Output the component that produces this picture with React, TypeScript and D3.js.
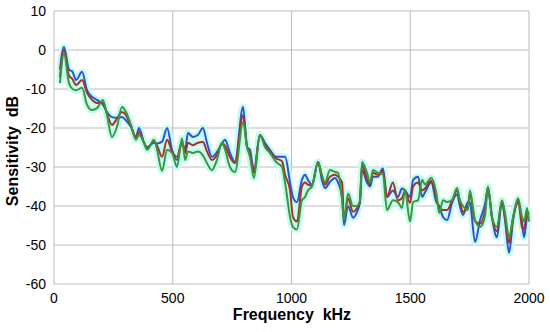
import React, { useEffect, useRef } from 'react';
import * as d3 from 'd3';

// frequency points (kHz)
const freqs = [25, 42, 63, 78, 93, 118, 139, 160, 181, 206, 223, 244, 265, 286, 303, 324, 345, 358, 379, 392,
  421, 434, 455, 476, 497, 518, 539, 552, 564, 585, 606, 627, 644, 665, 686, 707, 720, 741, 762, 796,
  813, 825, 842, 867, 888, 909, 935, 960, 973, 994, 1006, 1023, 1044, 1057, 1069, 1086, 1112, 1128, 1141, 1162,
  1183, 1196, 1213, 1221, 1238, 1259, 1276, 1288, 1297, 1318, 1331, 1343, 1364, 1385, 1402, 1427, 1448, 1465, 1478, 1499,
  1512, 1533, 1550, 1562, 1588, 1610, 1622, 1638, 1655, 1676, 1697, 1709, 1722, 1743, 1751, 1773, 1794, 1815, 1827, 1844,
  1865, 1886, 1899, 1916, 1933, 1954, 1971, 1979, 1992, 2000];

const blueSeries = [-5, 0.8, -5, -5.6, -7.7, -5.6, -10.3, -12, -12.8, -14, -15.9, -17.2, -17.4, -17.2, -18, -19.7, -22.3, -20, -23.8, -24.9,
  -23.8, -24, -23.5, -20, -25.6, -28.2, -23.8, -25.6, -21.3, -22.3, -21.8, -20, -23.8, -27.4, -26.2, -24, -23, -26.4, -28.7, -14.6,
  -24.9, -25.6, -30.8, -21.8, -23.8, -25.6, -27.4, -27.4, -27.4, -34, -37.7, -39, -33.3, -32, -33.3, -34.5, -28.7, -33.3, -35.4, -33.8,
  -32.8, -34, -37.7, -44.9, -40, -43, -41.5, -39.2, -30.8, -34, -35, -32.5, -32.5, -30.3, -37.7, -36, -37.7, -35.5, -36, -37.7,
  -33.3, -32.5, -37.7, -36.5, -34, -39, -40, -42.8, -43.6, -39.2, -37, -40, -42.3, -39, -39.2, -49.2, -43.6, -39.5, -35.4, -42.8,
  -48, -39, -43.6, -52, -43.6, -39.2, -44.4, -48, -42.8, -42];

const redSeries = [-7, 0, -6.5, -7.5, -9, -7.7, -11, -12.8, -13.6, -13.5, -16.3, -19.2, -17.6, -15.9, -16.7, -19.5, -22.5, -21, -23.8, -25.2,
  -23.4, -24.5, -27.4, -23, -26, -27.4, -23.5, -26.5, -23.8, -24.4, -23.8, -23.6, -26, -28.2, -27, -24, -24.5, -27.5, -29, -16.7,
  -24.9, -26.5, -31.5, -21.8, -24.3, -26, -27.8, -28.5, -32, -36, -42.8, -44, -35, -34, -34.5, -34.8, -28.7, -32.5, -34.5, -32.5,
  -32, -32.5, -34, -43.5, -38, -41.5, -40.5, -39, -29.5, -33, -34.5, -31.5, -32, -31, -37.7, -34, -38.5, -38, -36, -39.2,
  -35, -34, -36, -35.5, -33.5, -38, -40.5, -41, -41, -38.7, -36, -39, -41.5, -40, -37, -44, -44.5, -41, -35.2, -42.8,
  -46.5, -38.7, -43, -49.5, -43, -38.5, -45.5, -46, -41.5, -42];

const greenSeries = [-8.5, -1, -8.5, -10, -10.3, -9.7, -14, -15.4, -14.9, -12.8, -16.7, -22.3, -19.7, -14.6, -15.9, -19.2, -23, -21.8, -23.8, -25.6,
  -23, -25.6, -31, -25.6, -26.4, -30, -22.6, -28.2, -26, -26.4, -26, -27, -29, -30.8, -28.2, -23.8, -25.5, -30, -31.3, -18.5,
  -24.9, -27.4, -32.8, -21.8, -24.9, -26.4, -28.7, -30, -34, -42.8, -45.4, -46, -38.5, -37.7, -36, -35, -28.7, -32, -34, -30.8,
  -31.3, -31.5, -38.5, -43.6, -36.8, -40, -40, -38.5, -28.7, -31.5, -34, -30.8, -31.5, -32, -41, -38.5, -39, -40.5, -36, -44,
  -39, -38.5, -33.3, -34.5, -32.8, -36.8, -41.8, -38.5, -39, -38.5, -35.4, -38.5, -40, -41, -36, -43.6, -45.4, -42.5, -35, -42.8,
  -45.4, -38.5, -41.8, -48, -42.8, -38, -42.8, -44, -40.5, -44];

const xTicks = [0, 500, 1000, 1500, 2000];
const yTicks = [10, 0, -10, -20, -30, -40, -50, -60];

const series = [
  { name: 'blue', values: blueSeries, color: '#2f52d0' },
  { name: 'red', values: redSeries, color: '#a8302c' },
  { name: 'green', values: greenSeries, color: '#3a973a' },
];

const App = () => {
  const ref = useRef<SVGSVGElement>(null);

  useEffect(() => {
    const svg = d3.select(ref.current);
    svg.selectAll('*').remove();

    const width = 550;
    const height = 332;
    const margin = { top: 11, right: 21, bottom: 48, left: 54 };

    const x = d3.scaleLinear().domain([0, 2000]).range([margin.left, width - margin.right]);
    const y = d3.scaleLinear().domain([-60, 10]).range([height - margin.bottom, margin.top]);

    const font = 'Liberation Sans, Arial, sans-serif';

    // grid
    svg.append('g')
      .selectAll('line')
      .data(yTicks)
      .enter()
      .append('line')
      .attr('x1', x(0))
      .attr('x2', x(2000))
      .attr('y1', d => y(d))
      .attr('y2', d => y(d))
      .attr('stroke', '#bcbcbc')
      .attr('stroke-width', 1);

    svg.append('g')
      .selectAll('line')
      .data(xTicks)
      .enter()
      .append('line')
      .attr('x1', d => x(d))
      .attr('x2', d => x(d))
      .attr('y1', y(-60))
      .attr('y2', y(10))
      .attr('stroke', '#bcbcbc')
      .attr('stroke-width', 1);

    const line = d3.line<number>()
      .x((_, i) => x(freqs[i]))
      .y(d => y(d))
      .curve(d3.curveMonotoneX);

    // light halo behind the traces
    series.forEach(s => {
      svg.append('path')
        .datum(s.values)
        .attr('d', line)
        .attr('fill', 'none')
        .attr('stroke', '#c6fbf2')
        .attr('stroke-width', 7)
        .attr('stroke-linejoin', 'round');
    });

    series.forEach(s => {
      svg.append('path')
        .datum(s.values)
        .attr('d', line)
        .attr('fill', 'none')
        .attr('stroke', s.color)
        .attr('stroke-width', 2)
        .attr('stroke-linejoin', 'round');
    });

    // tick labels
    svg.append('g')
      .selectAll('text')
      .data(yTicks)
      .enter()
      .append('text')
      .attr('x', margin.left - 8)
      .attr('y', d => y(d) + 5)
      .attr('text-anchor', 'end')
      .attr('font-family', font)
      .attr('font-size', 14)
      .attr('fill', '#000')
      .text(d => d);

    svg.append('g')
      .selectAll('text')
      .data(xTicks)
      .enter()
      .append('text')
      .attr('x', d => x(d))
      .attr('y', height - margin.bottom + 19)
      .attr('text-anchor', 'middle')
      .attr('font-family', font)
      .attr('font-size', 14)
      .attr('fill', '#000')
      .text(d => d);

    // axis titles
    svg.append('text')
      .attr('x', 292)
      .attr('y', 320)
      .attr('text-anchor', 'middle')
      .attr('font-family', font)
      .attr('font-weight', 'bold')
      .attr('font-size', 16)
      .attr('xml:space', 'preserve')
      .text('Frequency  kHz');

    svg.append('text')
      .attr('transform', 'translate(18,151) rotate(-90)')
      .attr('text-anchor', 'middle')
      .attr('font-family', font)
      .attr('font-weight', 'bold')
      .attr('font-size', 16)
      .attr('xml:space', 'preserve')
      .text('Sensitivity  dB');
  }, []);

  return (
    <svg
      ref={ref}
      width={550}
      height={332}
      style={{ position: 'absolute', left: 0, top: 0, background: '#fff' }}
    />
  );
};

export default App;
